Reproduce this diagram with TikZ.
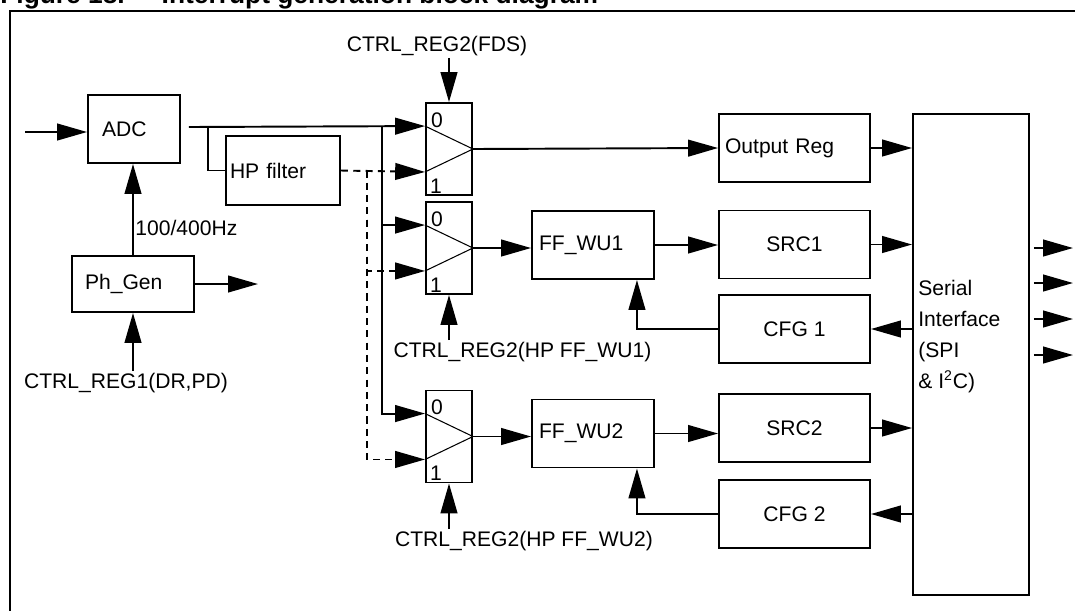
\documentclass[tikz,border=0pt]{standalone}
\usepackage{fontspec}
\setmainfont{Liberation Sans}
\usetikzlibrary{arrows.meta,positioning,calc}

\begin{document}
\begin{tikzpicture}[x=0.02cm,y=-0.02cm,
  font=\fontsize{12}{14.4}\selectfont,
  blk/.style={draw,line width=1.1pt,minimum width=3.02cm,minimum height=1.36cm,inner sep=0pt},
  mux/.style={draw,line width=1.1pt,minimum width=0.92cm,minimum height=1.84cm,inner sep=0pt},
  arr/.style={-{Triangle[length=17pt,width=9.5pt]},line width=1.1pt},
  dsh/.style={arr,dash pattern=on 4pt off 3pt},
  txt/.style={inner sep=1pt}]
\useasboundingbox (0,0) rectangle (1076,610);
\clip (0,0) rectangle (1076,610);
% caption (cut off at the top) and frame
\node[anchor=base west,inner sep=0pt,font=\bfseries\fontsize{15}{18}\selectfont] (ttl) at (0,3) {Figure 18.\hspace{21pt}Interrupt generation block diagram};
\draw[line width=1.1pt] (10,615) -- (10,11) -- (1075,11);
% blocks
\node[blk,align=left,minimum width=1.84cm,text width=1.28cm,inner xsep=0.28cm] (adc) at (134,129) {ADC};
\node[blk,align=left,minimum width=2.28cm,minimum height=1.38cm,text width=2.12cm,inner xsep=0.08cm] (hpf) at (283,170.5) {HP filter};
\node[blk,align=left,minimum width=2.44cm,minimum height=1.12cm,text width=1.92cm,inner xsep=0.26cm] (ph) at (133,284) {Ph\_Gen};
\node[blk,align=left,text width=2.78cm,inner xsep=0.12cm] (oreg) at (794.5,148) {Output Reg};
\node[blk] (src1) at (794.5,244.5) {SRC1};
\node[blk] (cfg1) at (794.5,329) {CFG 1};
\node[blk] (src2) at (794.5,428) {SRC2};
\node[blk] (cfg2) at (794.5,514) {CFG 2};
\node[blk,align=left,minimum width=2.44cm,text width=2.16cm,inner xsep=0.14cm] (ff1) at (593,245) {FF\_WU1};
\node[blk,align=left,minimum width=2.44cm,text width=2.16cm,inner xsep=0.14cm] (ff2) at (593,433.5) {FF\_WU2};
\node[blk,minimum width=2.32cm,minimum height=9.62cm] (ser) at (971,354.5) {};
\node[anchor=north west,inner sep=0pt,align=left,font=\fontsize{12}{17.6}\selectfont] (sertxt) at (918,280) {Serial\\Interface\\(SPI\\\& I\textsuperscript{2}C)};
% selectors
\node[mux] (m1) at (449,149) {};
\node[mux] (m2) at (449,248) {};
\node[mux] (m3) at (449,436.5) {};
\foreach \m in {m1,m2,m3} {
  \coordinate (\m-0) at ($(\m.north west)+(0,24)$);
  \coordinate (\m-1) at ($(\m.south west)+(0,-24)$);
  \draw[line width=0.6pt] (\m-0) -- (\m.east) -- (\m-1);
  \node[txt] (\m-d0) at ($(\m.north west)+(12,18)$) {0};
  \node[txt] (\m-d1) at ($(\m.south west)+(11,-10)$) {1};
}
% register labels
\node[txt] (fds) at (437,46) {CTRL\_REG2(FDS)};
\node[txt] (hp1) at (522.5,352) {CTRL\_REG2(HP FF\_WU1)};
\node[txt] (hp2) at (524,541) {CTRL\_REG2(HP FF\_WU2)};
\node[txt] (dr) at (126,383) {CTRL\_REG1(DR,PD)};
\node[anchor=west,inner sep=0pt] (hz) at (135,228) {100/400Hz};
% signal paths
\coordinate (in) at (25,132);
\coordinate (a0) at ($(adc.east)+(8,-2)$);
\coordinate (br) at ($(a0)+(19,0)$);
\coordinate (sv) at ($(a0)+(193,0)$);
\coordinate (dv) at ($(hpf.east)+(26,0)$);
\coordinate (phout) at ($(ph.east)+(63,0)$);
\draw[arr] (in) -- (in -| adc.west);
\draw[arr] (a0) -- (m1-0);
\draw[line width=1.1pt] (br) |- (hpf.west);
\draw[dsh] (hpf.east) -- (m1-1);
\draw[dsh] (dv) |- (m2-1);
\draw[dsh] (dv) |- (m3-1);
\draw[arr] (sv) |- (m2-0);
\draw[arr] (sv) |- (m3-0);
\draw[arr] (m1.east) -- (oreg.west);
\draw[arr] (m2.east) -- (m2.east -| ff1.west);
\draw[arr] (m3.east) -- (m3.east -| ff2.west);
\draw[arr] (ff1.east) -- (ff1.east -| src1.west);
\draw[arr] (ff2.east) -- (ff2.east -| src2.west);
\draw[arr] (oreg.east) -- (oreg.east -| ser.west);
\draw[arr] (src1.east) -- (src1.east -| ser.west);
\draw[arr] (src2.east) -- (src2.east -| ser.west);
\draw[arr] (cfg1.east -| ser.west) -- (cfg1.east);
\draw[arr] (cfg2.east -| ser.west) -- (cfg2.east);
\draw[arr] (cfg1.west) -| ($(ff1.south east)+(-18,0)$);
\draw[arr] (cfg2.west) -| ($(ff2.south east)+(-18,0)$);
\draw[arr] (ph.north) -- (ph.north |- adc.south);
\draw[arr] (ph.east) -- (phout);
\draw[arr] (dr.north -| ph.south) -- (ph.south);
\draw[arr] (fds.south -| m1.north) -- (m1.north);
\draw[arr] (hp1.north -| m2.south) -- (m2.south);
\draw[arr] (hp2.north -| m3.south) -- (m3.south);
\foreach \yy [count=\i] in {248,283,319,355} {
  \coordinate (o\i) at (1073,\yy);
  \draw[arr] (o\i -| ser.east) ++(4,0) -- (o\i);
}
\end{tikzpicture}
\end{document}
